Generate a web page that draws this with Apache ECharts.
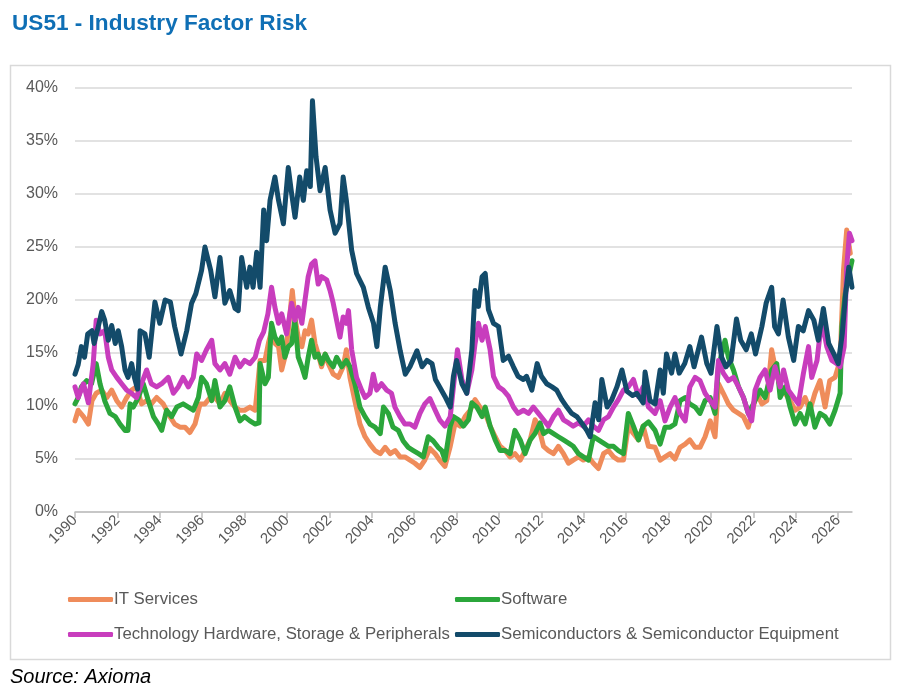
<!DOCTYPE html>
<html>
<head>
<meta charset="utf-8">
<script src="https://cdn.jsdelivr.net/npm/echarts@6/dist/echarts.min.js"></script>
<style>
html,body{margin:0;padding:0;background:#fff;}
#chart{width:901px;height:699px;}
</style>
</head>
<body>
<div id="chart"></div>
<script>
var yearTicks = [1990,1992,1994,1996,1998,2000,2002,2004,2006,2008,2010,2012,2014,2016,2018,2020,2022,2024,2026];
var seriesNames = ['IT Services','Software','Technology Hardware, Storage & Peripherals','Semiconductors & Semiconductor Equipment'];

var itDates = [1990.0,1990.15,1990.4,1990.63,1990.8,1991.0,1991.26,1991.5,1991.73,1991.97,1992.2,1992.44,1992.67,1992.9,1993.14,1993.38,1993.6,1993.85,1994.16,1994.48,1994.7,1994.95,1995.19,1995.42,1995.66,1995.9,1996.13,1996.37,1996.6,1996.84,1997.07,1997.3,1997.55,1997.78,1998.0,1998.25,1998.5,1998.73,1998.96,1999.12,1999.27,1999.43,1999.6,1999.75,1999.9,2000.06,2000.25,2000.37,2000.53,2000.7,2000.85,2001.0,2001.16,2001.32,2001.47,2001.63,2001.8,2001.95,2002.18,2002.42,2002.65,2002.8,2002.97,2003.2,2003.44,2003.68,2003.91,2004.15,2004.4,2004.63,2004.87,2005.1,2005.33,2005.56,2005.8,2006.03,2006.27,2006.5,2006.74,2006.99,2007.2,2007.45,2007.7,2007.93,2008.17,2008.4,2008.64,2008.87,2009.1,2009.35,2009.58,2009.82,2010.05,2010.29,2010.52,2010.75,2011.0,2011.23,2011.47,2011.7,2011.86,2012.1,2012.33,2012.57,2012.8,2013.04,2013.28,2013.5,2013.75,2013.98,2014.22,2014.45,2014.69,2014.93,2015.16,2015.4,2015.63,2015.87,2016.1,2016.34,2016.58,2016.8,2017.05,2017.36,2017.6,2017.83,2018.07,2018.3,2018.54,2018.78,2019.0,2019.25,2019.48,2019.72,2019.96,2020.19,2020.35,2020.58,2020.82,2021.06,2021.3,2021.53,2021.76,2021.92,2022.16,2022.4,2022.63,2022.86,2023.02,2023.26,2023.5,2023.73,2023.97,2024.2,2024.44,2024.67,2024.9,2025.14,2025.38,2025.6,2025.85,2026.09,2026.25,2026.4,2026.57];
var itValues = [8.6,9.6,9.0,8.3,10.5,11.2,11.5,10.8,11.5,10.5,9.9,10.8,11.5,11.8,10.2,10.5,10.2,10.8,10.2,9.0,8.3,8.0,8.0,7.5,8.3,10.2,10.2,10.8,10.8,10.2,11.2,10.5,9.9,9.6,9.6,9.9,9.6,14.3,14.3,15.9,17.1,15.9,15.6,13.4,14.6,17.1,20.9,18.4,16.5,15.6,17.1,16.8,18.1,15.9,14.9,13.7,14.9,14.0,13.0,12.7,13.7,15.3,12.7,10.5,8.3,7.1,6.4,5.8,5.5,6.1,5.5,5.8,5.2,5.2,4.9,4.6,4.2,4.9,6.0,5.5,4.9,4.3,6.2,8.4,8.1,9.0,9.6,10.6,9.9,9.3,8.1,7.1,6.2,5.8,5.2,5.5,4.9,5.8,6.8,8.7,8.1,6.2,5.8,5.5,6.2,5.5,4.6,4.9,5.2,4.9,5.2,4.6,4.1,5.5,5.8,5.2,4.9,4.9,8.1,7.4,6.8,8.1,6.2,6.1,4.9,5.2,5.5,5.0,6.1,6.4,6.8,6.1,6.1,7.1,8.6,7.1,12.1,11.2,10.2,9.6,9.3,9.0,8.0,9.3,11.2,10.2,10.5,15.3,13.7,11.8,11.2,10.5,9.6,9.9,10.8,9.6,11.2,12.4,9.9,12.4,12.7,14.3,22.8,26.6,24.4];

var swDates = [1990.0,1990.15,1990.3,1990.55,1990.78,1991.0,1991.18,1991.4,1991.65,1991.9,1992.12,1992.36,1992.5,1992.6,1992.75,1992.99,1993.22,1993.46,1993.7,1993.93,1994.09,1994.32,1994.56,1994.8,1995.1,1995.35,1995.58,1995.82,1995.97,1996.2,1996.45,1996.6,1996.84,1997.07,1997.3,1997.55,1997.78,1998.0,1998.25,1998.5,1998.68,1998.73,1998.96,1999.12,1999.27,1999.43,1999.6,1999.75,1999.9,2000.06,2000.22,2000.37,2000.53,2000.7,2000.85,2001.0,2001.16,2001.32,2001.47,2001.63,2001.8,2001.95,2002.18,2002.34,2002.58,2002.8,2002.97,2003.2,2003.44,2003.68,2003.91,2004.15,2004.4,2004.55,2004.78,2005.0,2005.25,2005.48,2005.72,2005.96,2006.2,2006.43,2006.66,2006.9,2007.13,2007.3,2007.45,2007.7,2007.85,2008.09,2008.32,2008.56,2008.72,2008.95,2009.2,2009.35,2009.58,2009.82,2010.05,2010.29,2010.52,2010.75,2011.0,2011.23,2011.47,2011.7,2011.94,2012.1,2012.33,2012.57,2012.8,2013.04,2013.28,2013.5,2013.75,2013.98,2014.22,2014.45,2014.69,2014.93,2015.16,2015.4,2015.63,2015.87,2016.1,2016.34,2016.58,2016.8,2017.05,2017.36,2017.6,2017.83,2018.07,2018.3,2018.54,2018.78,2019.0,2019.25,2019.48,2019.72,2019.96,2020.19,2020.35,2020.66,2020.82,2021.06,2021.3,2021.53,2021.76,2022.0,2022.31,2022.55,2022.86,2023.1,2023.26,2023.5,2023.73,2023.97,2024.2,2024.44,2024.67,2024.9,2025.14,2025.38,2025.6,2025.85,2026.09,2026.17,2026.33,2026.49,2026.65];
var swValues = [10.2,10.8,11.8,12.4,12.1,14.0,12.1,10.5,9.3,9.0,8.3,7.7,7.7,10.2,9.9,10.8,12.1,10.5,9.0,8.3,7.7,9.6,9.0,9.9,10.2,9.9,9.6,10.8,12.7,12.1,10.5,12.4,9.9,10.5,11.8,9.9,8.6,9.0,8.6,8.3,8.4,14.0,12.1,12.7,17.8,16.5,15.9,16.5,14.6,15.6,15.9,18.1,14.6,13.7,12.7,14.6,16.2,14.6,14.9,14.0,14.9,14.3,13.7,14.6,13.7,14.3,13.7,12.1,9.9,9.0,8.3,8.0,7.4,9.9,9.3,8.0,7.7,6.7,6.1,5.8,5.5,5.2,7.1,6.7,6.1,5.8,4.9,8.1,9.0,8.7,8.1,8.7,10.3,9.9,9.0,9.9,8.1,6.8,5.8,5.8,5.5,7.7,6.8,5.5,6.8,7.4,8.4,7.4,7.7,7.4,7.1,6.8,6.5,6.2,5.5,5.2,4.9,7.1,6.8,6.5,6.2,6.2,5.8,5.5,9.3,8.1,6.8,8.1,8.5,7.7,6.4,8.0,8.0,8.3,10.5,10.8,10.2,9.9,9.3,10.5,10.8,9.3,13.7,16.2,14.6,13.4,11.8,10.8,9.3,10.2,11.5,10.8,13.4,14.0,10.8,11.8,9.9,8.3,9.3,8.3,10.2,8.0,9.3,9.0,8.3,9.6,11.2,17.5,20.6,22.2,23.7];

var hwDates = [1990.0,1990.15,1990.4,1990.63,1990.86,1991.0,1991.18,1991.4,1991.57,1991.73,1991.97,1992.2,1992.44,1992.67,1992.9,1993.14,1993.38,1993.6,1993.85,1994.09,1994.4,1994.64,1994.87,1995.1,1995.35,1995.58,1995.74,1995.97,1996.2,1996.45,1996.6,1996.84,1997.07,1997.3,1997.55,1997.78,1998.0,1998.25,1998.5,1998.7,1998.9,1999.1,1999.27,1999.43,1999.6,1999.75,1999.98,2000.22,2000.37,2000.53,2000.7,2000.85,2001.0,2001.16,2001.32,2001.47,2001.63,2001.87,2002.03,2002.18,2002.34,2002.5,2002.65,2002.8,2002.9,2003.05,2003.28,2003.52,2003.68,2003.91,2004.07,2004.23,2004.46,2004.7,2004.93,2005.09,2005.33,2005.56,2005.8,2006.03,2006.27,2006.5,2006.74,2006.99,2007.2,2007.45,2007.7,2007.85,2008.04,2008.25,2008.48,2008.72,2008.87,2009.03,2009.2,2009.35,2009.58,2009.74,2009.98,2010.2,2010.45,2010.68,2010.9,2011.15,2011.39,2011.62,2011.86,2012.1,2012.33,2012.57,2012.8,2013.04,2013.28,2013.5,2013.75,2013.98,2014.22,2014.45,2014.69,2014.93,2015.16,2015.4,2015.63,2015.87,2016.1,2016.34,2016.58,2016.8,2017.05,2017.36,2017.6,2017.83,2018.07,2018.3,2018.54,2018.78,2019.0,2019.25,2019.48,2019.72,2019.96,2020.19,2020.35,2020.58,2020.82,2021.06,2021.3,2021.53,2021.76,2021.92,2022.08,2022.31,2022.55,2022.79,2023.02,2023.26,2023.42,2023.65,2023.9,2024.12,2024.36,2024.6,2024.75,2025.0,2025.22,2025.46,2025.7,2025.93,2026.09,2026.28,2026.4,2026.53,2026.65];
var hwValues = [11.8,10.8,12.1,10.3,14.0,18.1,16.8,17.1,14.6,13.4,12.7,12.1,11.5,11.2,10.8,12.1,13.4,12.1,11.8,12.1,12.7,11.2,11.8,12.7,11.8,12.7,14.9,14.3,15.3,16.2,14.0,13.4,14.0,13.0,14.6,13.7,14.3,14.0,14.6,16.2,17.0,18.7,21.2,19.3,17.8,18.7,16.8,19.7,18.1,19.3,17.8,20.0,22.2,23.4,23.7,21.5,22.2,21.9,20.9,19.7,18.1,16.5,18.4,17.8,19.0,15.3,12.7,11.5,10.8,11.2,13.0,11.5,12.1,11.5,11.2,9.9,9.0,8.3,8.3,8.0,9.3,10.2,10.7,9.6,8.7,8.1,9.0,11.8,15.3,12.5,11.2,13.4,15.9,17.8,16.2,17.5,15.3,12.8,11.8,11.5,10.9,9.9,9.3,9.6,9.3,9.9,9.3,8.7,8.1,9.0,9.6,8.7,8.4,8.1,8.4,8.1,8.7,8.1,7.7,8.7,9.0,9.9,10.6,11.5,11.8,12.5,10.9,11.8,9.9,9.3,10.5,8.6,9.9,10.8,9.3,8.6,11.8,12.7,12.4,11.2,10.5,9.9,14.3,13.1,12.4,12.7,11.8,10.8,9.3,8.6,11.5,12.7,13.4,11.5,13.7,11.8,13.4,11.5,10.8,10.2,13.1,15.6,12.7,14.3,18.1,15.6,14.3,14.0,13.7,15.6,23.1,26.3,25.6];

var semiDates = [1990.0,1990.15,1990.3,1990.45,1990.6,1990.8,1990.9,1991.1,1991.26,1991.4,1991.57,1991.73,1991.9,1992.04,1992.2,1992.36,1992.5,1992.67,1992.8,1992.95,1993.07,1993.3,1993.5,1993.77,1994.0,1994.25,1994.5,1994.7,1995.0,1995.27,1995.5,1995.7,1995.97,1996.13,1996.4,1996.6,1996.84,1997.07,1997.3,1997.55,1997.7,1997.86,1998.1,1998.25,1998.4,1998.57,1998.73,1998.9,1999.04,1999.2,1999.43,1999.6,1999.83,2000.06,2000.2,2000.38,2000.6,2000.77,2000.93,2001.1,2001.2,2001.37,2001.56,2001.8,2002.03,2002.27,2002.5,2002.65,2002.8,2003.05,2003.28,2003.6,2003.84,2004.08,2004.24,2004.4,2004.63,2004.87,2005.1,2005.34,2005.58,2005.8,2006.13,2006.37,2006.6,2006.84,2007.0,2007.2,2007.45,2007.7,2007.85,2008.0,2008.25,2008.48,2008.72,2008.87,2009.03,2009.2,2009.35,2009.5,2009.74,2009.98,2010.2,2010.45,2010.68,2010.9,2011.15,2011.3,2011.55,2011.8,2012.0,2012.25,2012.5,2012.72,2012.96,2013.2,2013.43,2013.67,2013.9,2014.14,2014.3,2014.53,2014.7,2014.85,2015.1,2015.32,2015.56,2015.8,2016.03,2016.3,2016.5,2016.8,2016.89,2017.12,2017.36,2017.6,2017.75,2017.9,2018.14,2018.3,2018.5,2018.76,2019.0,2019.2,2019.55,2019.8,2020.0,2020.28,2020.5,2020.7,2020.95,2021.2,2021.4,2021.66,2021.9,2022.1,2022.4,2022.6,2022.86,2023.0,2023.18,2023.4,2023.65,2023.9,2024.12,2024.35,2024.6,2024.85,2025.06,2025.3,2025.55,2025.8,2026.0,2026.19,2026.35,2026.5,2026.65];
var semiValues = [13.0,13.9,15.6,14.6,16.8,17.1,15.9,17.5,18.9,18.1,16.2,17.6,15.9,17.1,15.6,13.4,12.7,14.0,12.7,11.6,17.1,16.8,14.6,19.8,17.8,20.0,19.8,17.5,14.9,17.1,19.7,20.6,22.8,25.0,22.8,20.3,24.0,19.7,20.9,19.2,19.0,24.0,21.2,23.1,21.2,24.5,21.2,28.5,25.6,29.4,31.6,29.4,27.2,32.5,30.3,27.8,31.6,29.4,32.2,30.7,38.8,33.5,30.3,32.5,28.5,26.3,27.2,31.6,29.4,24.7,22.5,21.2,19.3,17.8,15.6,19.3,23.1,20.9,17.8,15.2,13.0,13.7,15.2,13.7,14.3,14.0,12.5,11.8,10.9,9.9,12.8,14.3,12.1,11.2,15.3,20.9,19.4,22.2,22.5,19.1,17.8,17.5,14.3,14.7,13.7,12.8,12.5,12.8,11.5,14.0,12.8,12.1,11.8,11.5,10.6,9.9,9.3,9.0,8.4,7.7,7.1,10.3,8.7,12.5,9.9,10.6,11.8,13.4,11.4,11.0,11.2,10.3,13.2,10.5,10.2,13.4,11.2,14.9,13.1,14.9,13.1,14.0,15.6,13.7,16.5,14.0,13.1,17.5,14.6,13.7,14.3,18.2,16.2,15.3,16.8,14.9,17.5,19.7,21.2,17.5,16.8,20.0,16.5,14.3,17.5,17.1,19.0,18.1,16.2,19.2,15.9,14.9,14.0,16.8,20.6,23.1,21.2];

var colors = ['#EF8C5B','#2BA63B','#C83DBD','#134B6A'];

function pairs(d, v){ var out=[]; for(var i=0;i<d.length;i++){ out.push([d[i], v[i]]); } return out; }

var chart = echarts.init(document.getElementById('chart'), null, {renderer:'canvas'});
var txt = '#595959';
var fam = 'Liberation Sans, Arial, sans-serif';
function mkLegend(name, left, top){
  return {
    data:[name], left:left, top:top, orient:'horizontal',
    icon:'roundRect', itemWidth:45, itemHeight:5, itemGap:4,
    textStyle:{color:txt, fontSize:16.8, fontFamily:fam, padding:[0,0,0,-4]},
    selectedMode:false
  };
}
function mkSeries(i, d, v){
  return {
    name: seriesNames[i], type:'line', data: pairs(d, v),
    showSymbol:false, symbol:'none', smooth:false,
    lineStyle:{width:5, color:colors[i], cap:'round', join:'round'},
    itemStyle:{color:colors[i]},
    emphasis:{disabled:true}, animation:false
  };
}
var option = {
  animation:false,
  color: colors,
  title:{
    text:'US51 - Industry Factor Risk', left:7, top:7,
    textStyle:{color:'#0F6FB5', fontSize:22.6, fontWeight:'bold', fontFamily:fam}
  },
  graphic:[
    {type:'rect', shape:{x:10.5, y:65.5, width:880, height:594}, style:{fill:'none', stroke:'#D9D9D9', lineWidth:1.5}, silent:true},
    {type:'text', left:10, top:667, style:{text:'Source: Axioma', fill:'#000', font:'italic 20px "Liberation Sans", Arial, sans-serif'}, silent:true}
  ],
  legend:[
    mkLegend(seriesNames[0], 63, 586),
    mkLegend(seriesNames[1], 450, 586),
    mkLegend(seriesNames[2], 63, 621),
    mkLegend(seriesNames[3], 450, 621)
  ],
  grid:{left:75, right:49, top:88, bottom:187, containLabel:false},
  xAxis:{
    type:'value', min:1990, max:2026.65, interval:2,
    axisLine:{show:true, lineStyle:{color:'#BFBFBF', width:1.5}},
    axisTick:{show:true, length:6, inside:false, lineStyle:{color:'#BFBFBF', width:1.5}, customValues: yearTicks},
    axisLabel:{
      rotate:45, color:txt, fontSize:15, margin:6,
      fontFamily:fam,
      customValues: yearTicks,
      formatter:function(v){ return (Math.abs(v-Math.round(v))<1e-6 && yearTicks.indexOf(Math.round(v))>=0) ? String(Math.round(v)) : ''; }
    },
    splitLine:{show:false}
  },
  yAxis:{
    type:'value', min:0, max:40, interval:5,
    axisLine:{show:false}, axisTick:{show:false},
    axisLabel:{color:txt, fontSize:16, margin:17, fontFamily:fam, formatter:function(v){return v+'%';}},
    splitLine:{show:true, lineStyle:{color:'#D9D9D9', width:1.5}}
  },
  series:[
    mkSeries(0, itDates, itValues),
    mkSeries(1, swDates, swValues),
    mkSeries(2, hwDates, hwValues),
    mkSeries(3, semiDates, semiValues)
  ]
};
chart.setOption(option);
</script>
</body>
</html>
